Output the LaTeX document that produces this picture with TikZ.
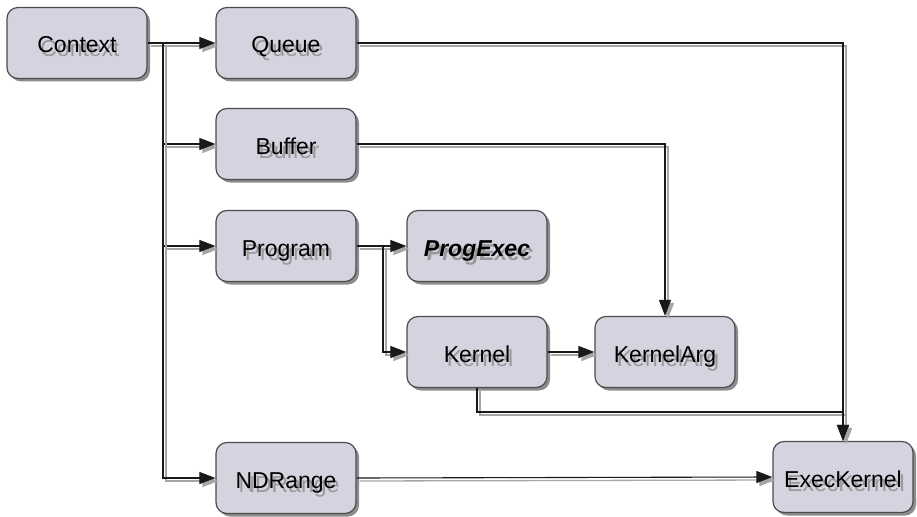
\documentclass[tikz,border=0pt]{standalone}
\usepackage{fontspec}
\setmainfont{Liberation Sans}
\usetikzlibrary{arrows.meta,shadows}

% label with a soft gray drop shadow behind the text
\newcommand\shtxt[1]{\rlap{\kern3pt\raisebox{-4pt}{\textcolor{black!40}{#1}}}#1}

\tikzset{
  box/.style={draw=black!70, line width=1.2pt, fill={rgb,255:red,212;green,212;blue,224},
    rounded corners=11pt, minimum width=140pt, minimum height=71pt, inner sep=0pt,
    font=\fontsize{23}{26}\selectfont, text height=20pt, text depth=0pt,
    drop shadow={shadow xshift=3pt, shadow yshift=-3pt, fill=black!45, opacity=1}},
  conn/.style={draw=black!90, line width=1.1pt,
    preaction={draw=black!35, line width=1.3pt, transform canvas={shift={(3pt,-3pt)}}}},
  tip/.style={-{Triangle[length=16pt,width=12pt]}}
}

\begin{document}
\begin{tikzpicture}[x=1pt,y=-1pt]
\useasboundingbox (0,0) rectangle (917,516);

\node[box] (ctx) at (77,43)  {\shtxt{Context}};
\node[box] (q)   at (286,43)  {\shtxt{Queue}};
\node[box] (buf) at (286,144) {\shtxt{Buffer}};
\node[box] (prg) at (286,246) {\shtxt{Program}};
\node[box] (pe)  at (477,246) {\shtxt{\bfseries\itshape ProgExec}};
\node[box] (ker) at (477,352) {\shtxt{Kernel}};
\node[box] (ka)  at (665,352) {\shtxt{KernelArg}};
\node[box] (nd)  at (286,478) {\shtxt{NDRange}};
\node[box] (ek)  at (843,477) {\shtxt{ExecKernel}};

\coordinate (trunk) at (163,43);
\coordinate (pbr) at (383,246);
\coordinate (kdown) at (477,412);

% Context fans out to its objects
\draw[conn,tip] (ctx.east) -- (q.west);
\draw[conn,tip] (ctx.east) -- (trunk) |- (buf.west);
\draw[conn,tip] (ctx.east) -- (trunk) |- (prg.west);
\draw[conn,tip] (ctx.east) -- (trunk) |- (nd.west);

% Program
\draw[conn,tip] (prg.east) -- (pe.west);
\draw[conn,tip] (prg.east) -- (pbr) |- (ker.west);

% Kernel and its arguments
\draw[conn,tip] (ker.east) -- (ka.west);
\draw[conn,tip] (buf.east) -| (ka.north);

% everything feeding ExecKernel
\draw[conn,tip] (q.east) -| (ek.north);
\draw[conn,tip] (ker.south) -- (kdown) -| (ek.north);
\draw[conn,tip] (nd.east) -- (ek.west);
\end{tikzpicture}
\end{document}
